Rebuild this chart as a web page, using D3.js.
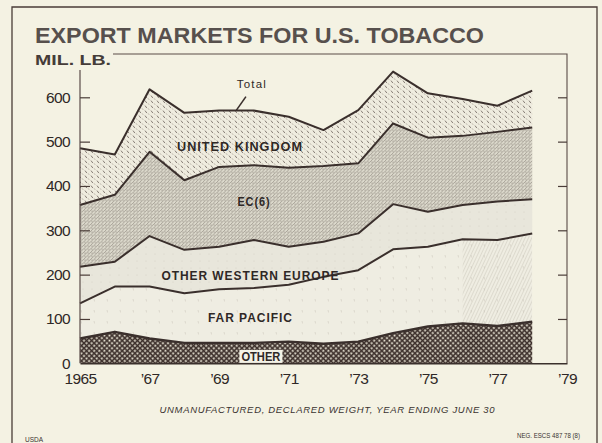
<!DOCTYPE html>
<html><head><meta charset="utf-8">
<script src="https://cdn.jsdelivr.net/npm/d3@7"></script>
<style>
html,body{margin:0;padding:0;background:#f4f2e3;}
svg{display:block;font-family:"Liberation Sans",Arial,Helvetica,sans-serif;}
</style></head><body>
<svg id="c" width="602" height="443"></svg>
<script>
// ---- data (million lb, unmanufactured, declared weight, year ending June 30) ----
const years = [1965,1966,1967,1968,1969,1970,1971,1972,1973,1974,1975,1976,1977,1978];
const other              = [56, 71, 56, 46, 46, 46, 49, 44, 49, 68, 83, 90, 84, 94];
const farPacific         = [79,102,117,112,121,124,128,151,161,189,180,190,194,199];
const otherWesternEurope = [83, 56,114, 98, 96,108, 86, 79, 83,102, 79, 77, 87, 77];
const ec6                = [139,151,190,157,180,169,178,171,158,182,167,156,157,162];
const unitedKingdom      = [128, 91,141,152,127,123,115, 81,120,117,100, 83, 59, 83];
const seriesKeys   = ["other","farPacific","otherWesternEurope","ec6","unitedKingdom"];
const seriesLabels = ["OTHER","FAR PACIFIC","OTHER WESTERN EUROPE","EC(6)","UNITED KINGDOM"];
const xTickValues = [1965,1967,1969,1971,1973,1975,1977,1979];
const xTickLabels = ["1965","\u201967","\u201969","\u201971","\u201973","\u201975","\u201977","\u201979"];
const yTickValues = [0,100,200,300,400,500,600];
const yTickLabels = ["0","100","200","300","400","500","600"];

const ink = "#3a2f2c";
const svg = d3.select("#c");
const defs = svg.append("defs");

// patterns
const pUK = defs.append("pattern").attr("id","pUK").attr("patternUnits","userSpaceOnUse")
  .attr("width",6).attr("height",5);
pUK.append("rect").attr("width",6).attr("height",5).attr("fill","#efecdf");
pUK.append("line").attr("x1",1).attr("y1",0.6).attr("x2",2.8).attr("y2",3)
  .attr("stroke","#857c74").attr("stroke-width",1);
pUK.append("line").attr("x1",4).attr("y1",3.3).attr("x2",5.2).attr("y2",4.8)
  .attr("stroke","#a39a90").attr("stroke-width",0.7);

const pEC = defs.append("pattern").attr("id","pEC").attr("patternUnits","userSpaceOnUse")
  .attr("width",3.5).attr("height",3.5);
pEC.append("rect").attr("width",3.5).attr("height",3.5).attr("fill","#dcd9cc");
pEC.append("line").attr("x1",0).attr("y1",3.5).attr("x2",3.5).attr("y2",0)
  .attr("stroke","#a0998f").attr("stroke-width",0.8);
pEC.append("circle").attr("cx",0.9).attr("cy",0.9).attr("r",0.55).attr("fill","#8a8279");

const pOWE = defs.append("pattern").attr("id","pOWE").attr("patternUnits","userSpaceOnUse")
  .attr("width",9).attr("height",7);
pOWE.append("rect").attr("width",9).attr("height",7).attr("fill","#e8e6db");
pOWE.append("circle").attr("cx",2).attr("cy",2).attr("r",0.5).attr("fill","#d2cec2");

const pFP = defs.append("pattern").attr("id","pFP").attr("patternUnits","userSpaceOnUse")
  .attr("width",13).attr("height",11);
pFP.append("rect").attr("width",13).attr("height",11).attr("fill","#efede2");
pFP.append("line").attr("x1",3).attr("y1",2).attr("x2",3.6).attr("y2",4.5)
  .attr("stroke","#d6d2c6").attr("stroke-width",0.8);

const pHatch = defs.append("pattern").attr("id","pHatch").attr("patternUnits","userSpaceOnUse")
  .attr("width",3).attr("height",3).attr("patternTransform","rotate(25)");
pHatch.append("line").attr("x1",0).attr("y1",0).attr("x2",0).attr("y2",3)
  .attr("stroke","#bdb8ac").attr("stroke-width",0.9);

const pOther = defs.append("pattern").attr("id","pOther").attr("patternUnits","userSpaceOnUse")
  .attr("width",3.6).attr("height",3.6).attr("patternTransform","rotate(45)");
pOther.append("rect").attr("width",3.6).attr("height",3.6).attr("fill","#3c2f2b");
pOther.append("rect").attr("x",0.5).attr("y",0.5).attr("width",1.9).attr("height",1.9).attr("fill","#ebe7d7");

const fills = {other:"url(#pOther)",farPacific:"url(#pFP)",otherWesternEurope:"url(#pOWE)",ec6:"url(#pEC)",unitedKingdom:"url(#pUK)"};

// scales
const x = d3.scaleLinear().domain([1965,1979]).range([80,567]);
const y = d3.scaleLinear().domain([0,600]).range([363.3,97.3]);

// data table
const table = years.map((yr,i)=>({year:yr, other:other[i], farPacific:farPacific[i],
  otherWesternEurope:otherWesternEurope[i], ec6:ec6[i], unitedKingdom:unitedKingdom[i]}));
const stacked = d3.stack().keys(seriesKeys)(table);

const area = d3.area().x(d=>x(d.data.year)).y0(d=>y(d[0])).y1(d=>y(d[1]));
const line = d3.line().x(d=>x(d.data.year)).y(d=>y(d[1]));

// outer border
svg.append("path").attr("d","M12,443 V7 H597 V443").attr("fill","none")
  .attr("stroke","#4a3c38").attr("stroke-width",1.3);

// title
svg.append("text").attr("x",35).attr("y",43).attr("font-size",22.5).attr("font-weight","bold")
  .attr("fill","#57504d").attr("textLength",449).attr("lengthAdjust","spacingAndGlyphs")
  .text("EXPORT MARKETS FOR U.S. TOBACCO");
svg.append("text").attr("x",35).attr("y",65).attr("font-size",15).attr("font-weight","bold")
  .attr("fill","#453c39").attr("textLength",76).attr("lengthAdjust","spacingAndGlyphs")
  .text("MIL. LB.");

// areas
const g = svg.append("g");
g.selectAll("path.band").data(stacked).join("path").attr("class","band")
  .attr("d",area).attr("fill",d=>fills[d.key]);

// hatch overlay in far pacific band 1976-78
const fpLayer = stacked[1];
defs.append("clipPath").attr("id","hClip").append("rect")
  .attr("x",x(1976)).attr("y",y(600)).attr("width",x(1978)-x(1976)).attr("height",y(0)-y(600));
g.append("path").attr("d",area(fpLayer)).attr("fill","url(#pHatch)")
  .attr("clip-path","url(#hClip)").attr("opacity",0.8);

// boundary lines
g.selectAll("path.edge").data(stacked).join("path").attr("class","edge")
  .attr("d",line).attr("fill","none").attr("stroke",ink)
  .attr("stroke-width",(d,i)=>i===0?2.4:2).attr("stroke-linejoin","round");

// frame: top line + right axis
svg.append("path").attr("d",`M113,54 H${x(1979)} V${y(0)}`).attr("fill","none")
  .attr("stroke","#5a4c48").attr("stroke-width",1.1);
// left axis line
svg.append("line").attr("x1",x(1965)).attr("x2",x(1965)).attr("y1",70).attr("y2",y(0))
  .attr("stroke","#5a4c48").attr("stroke-width",1.2);

// left axis
const yAxis = d3.axisLeft(y).tickValues(yTickValues).tickSize(-10).tickPadding(10)
  .tickFormat((d,i)=>yTickLabels[i]);
const ya = svg.append("g").attr("transform",`translate(${x(1965)},0)`).call(yAxis);
ya.select(".domain").remove();
ya.selectAll(".tick line").attr("stroke","#4a3c38").attr("stroke-width",1.2)
  .filter(d=>d===0).remove();
ya.selectAll(".tick text").attr("font-size",15.5).attr("fill","#2e2826")
  .attr("font-family","Liberation Sans, Arial, sans-serif").attr("letter-spacing",-0.6);

// right axis ticks
const yAxisR = d3.axisRight(y).tickValues(yTickValues.filter(v=>v>0)).tickSize(-9).tickFormat("");
const yr = svg.append("g").attr("transform",`translate(${x(1979)},0)`).call(yAxisR);
yr.select(".domain").remove();
yr.selectAll(".tick line").attr("stroke","#4a3c38").attr("stroke-width",1.2);

// bottom axis
const xAxis = d3.axisBottom(x).tickValues(xTickValues).tickSize(0).tickPadding(10)
  .tickFormat((d,i)=>xTickLabels[i]);
const xa = svg.append("g").attr("transform",`translate(0,${y(0)})`).call(xAxis);
xa.select(".domain").attr("stroke","#3a302c").attr("stroke-width",1.6);
xa.selectAll(".tick text").attr("font-size",15.5).attr("fill","#2e2826")
  .attr("font-family","Liberation Sans, Arial, sans-serif").attr("letter-spacing",-0.6);

// band labels
const lab = svg.append("g").attr("font-weight","bold").attr("fill","#2f2826");
function bandLabel(txt, yrPos, layerIdx, frac, w, fs){
  const L = stacked[layerIdx];
  const i = years.indexOf(Math.round(yrPos));
  const v = L[i][0] + (L[i][1]-L[i][0])*frac;
  return lab.append("text").attr("x",x(yrPos)).attr("y",y(v)).attr("text-anchor","middle")
    .attr("font-size",fs).attr("letter-spacing",1).attr("textLength",w)
    .attr("lengthAdjust","spacingAndGlyphs").text(txt);
}
bandLabel(seriesLabels[4], 1969.6, 4, 0.25, 126, 12.5);
bandLabel(seriesLabels[3], 1970, 3, 0.45, 33, 12.5);
bandLabel(seriesLabels[2], 1969.9, 2, 0.17, 178, 12.5);
bandLabel(seriesLabels[1], 1969.9, 1, 0.38, 85, 12.5);

// OTHER label with box
const oPos = 1970.2;
const oV = 2;
lab.append("rect").attr("x",x(oPos)-21.5).attr("y",y(oV)-12.5).attr("width",43).attr("height",13)
  .attr("fill","#f4f2e6");
lab.append("text").attr("x",x(oPos)).attr("y",y(oV)-1.5).attr("text-anchor","middle")
  .attr("font-size",12.5).attr("textLength",39).attr("lengthAdjust","spacingAndGlyphs")
  .text(seriesLabels[0]);

// Total label + leader
const totalIdx = years.indexOf(1970);
const totV = stacked[4][totalIdx][1];
svg.append("text").attr("x",x(1970)-2).attr("y",y(totV)-22.5).attr("text-anchor","middle")
  .attr("font-size",11.5).attr("fill","#2f2826").attr("letter-spacing",1.2).text("Total");
svg.append("line").attr("x1",x(1970)-8).attr("y1",y(totV)-14).attr("x2",x(1970)-17.5).attr("y2",y(totV)-0.5)
  .attr("stroke",ink).attr("stroke-width",1.6);

// footnotes
svg.append("text").attr("x",327).attr("y",413).attr("text-anchor","middle")
  .attr("font-size",9.5).attr("font-style","italic").attr("fill","#3a3330")
  .attr("textLength",335).attr("lengthAdjust","spacing")
  .text("UNMANUFACTURED, DECLARED WEIGHT, YEAR ENDING JUNE 30");
svg.append("text").attr("x",25).attr("y",442).attr("font-size",6.5).attr("fill","#3a3330")
  .text("USDA");
svg.append("text").attr("x",517).attr("y",438).attr("font-size",6.5).attr("fill","#3a3330")
  .attr("textLength",63).attr("lengthAdjust","spacingAndGlyphs").text("NEG. ESCS 487 78 (8)");
</script>
</body></html>
